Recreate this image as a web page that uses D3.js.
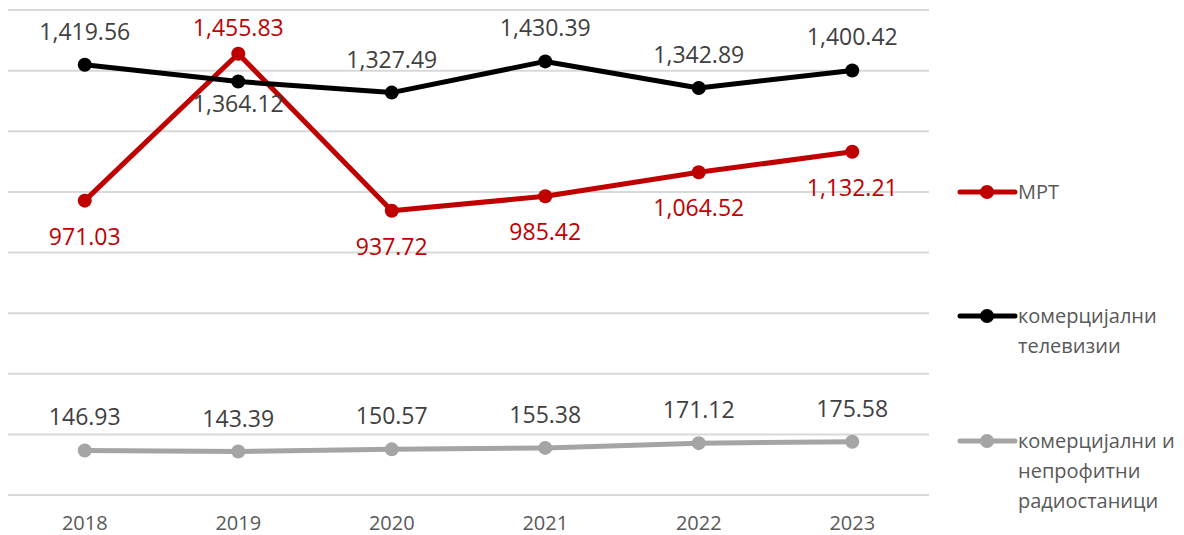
<!DOCTYPE html>
<html>
<head>
<meta charset="utf-8">
<script src="https://cdn.jsdelivr.net/npm/d3@7"></script>
<style>
  body { margin: 0; background: #fff; }
  svg text { font-family: "Open Sans", sans-serif; }
</style>
</head>
<body>
<div id="chart"></div>
<script>
var years = ["2018", "2019", "2020", "2021", "2022", "2023"];
var mrt = [971.03, 1455.83, 937.72, 985.42, 1064.52, 1132.21];
var tv = [1419.56, 1364.12, 1327.49, 1430.39, 1342.89, 1400.42];
var radio = [146.93, 143.39, 150.57, 155.38, 171.12, 175.58];
var yTicks = [0, 200, 400, 600, 800, 1000, 1200, 1400, 1600];

// label placement: true = above the point
var mrtAbove = [false, true, false, false, false, false];
var tvAbove = [true, false, true, true, true, true];
var radioAbove = [true, true, true, true, true, true];

var series = [
  { name: ["МРТ"], values: mrt, above: mrtAbove, below: 44, color: "#C00000", text: "#C00000" },
  { name: ["комерцијални", "телевизии"], values: tv, above: tvAbove, below: 30, color: "#000000", text: "#404040" },
  { name: ["комерцијални и", "непрофитни", "радиостаници"], values: radio, above: radioAbove, below: 44, color: "#A5A5A5", text: "#404040" }
];

var W = 1184, H = 535;
var margin = { top: 10, left: 8, right: 255, bottom: 40 };
var width = W - margin.left - margin.right;
var height = H - margin.top - margin.bottom;

var svg = d3.select("#chart").append("svg")
  .attr("width", W)
  .attr("height", H);

var g = svg.append("g")
  .attr("transform", "translate(" + margin.left + "," + margin.top + ")");

var x = d3.scaleBand().domain(years).range([0, width]);
var y = d3.scaleLinear().domain([0, 1600]).range([height, 0]);

// gridlines
g.selectAll("line.grid")
  .data(yTicks).enter()
  .append("line")
    .attr("class", "grid")
    .attr("x1", 0)
    .attr("x2", width)
    .attr("y1", function(d) { return y(d); })
    .attr("y2", function(d) { return y(d); })
    .attr("stroke", "#D9D9D9")
    .attr("stroke-width", 2);

// x axis labels
var xAxis = g.append("g")
  .attr("transform", "translate(0," + height + ")")
  .call(d3.axisBottom(x).tickSize(0).tickPadding(0));
xAxis.select(".domain").remove();
xAxis.selectAll("text")
  .attr("dy", null)
  .attr("y", 35)
  .attr("font-size", "20px")
  .attr("fill", "#595959")
  .style("font-family", '"Open Sans", sans-serif');

var cx = function(i) { return x(years[i]) + x.bandwidth() / 2; };

var line = d3.line()
  .x(function(d, i) { return cx(i); })
  .y(function(d) { return y(d); });

// radio first, then mrt, then tv so black sits on top
[series[2], series[0], series[1]].forEach(function(s) {
  g.append("path")
    .datum(s.values)
    .attr("fill", "none")
    .attr("stroke", s.color)
    .attr("stroke-width", 5)
    .attr("stroke-linejoin", "round")
    .attr("d", line);

  g.selectAll(null)
    .data(s.values).enter()
    .append("circle")
      .attr("cx", function(d, i) { return cx(i); })
      .attr("cy", function(d) { return y(d); })
      .attr("r", 7)
      .attr("fill", s.color);
});

// data labels (labels above are kept inside the plot top, like Excel does)
series.forEach(function(s) {
  g.selectAll(null)
    .data(s.values).enter()
    .append("text")
      .attr("x", function(d, i) { return cx(i); })
      .attr("y", function(d, i) { return s.above[i] ? Math.max(y(d) - 25, 26) : y(d) + s.below; })
      .attr("text-anchor", "middle")
      .attr("font-size", "23px")
      .attr("fill", s.text)
      .text(function(d) { return d3.format(",.2f")(d); });
});

// legend
var legendY = [192, 316, 441];
var legend = svg.selectAll("g.legend")
  .data(series).enter()
  .append("g")
    .attr("class", "legend")
    .attr("transform", function(d, i) { return "translate(960," + legendY[i] + ")"; });

legend.append("line")
  .attr("x1", 0).attr("x2", 55)
  .attr("stroke", function(d) { return d.color; })
  .attr("stroke-width", 5)
  .attr("stroke-linecap", "round");
legend.append("circle")
  .attr("cx", 27).attr("r", 7)
  .attr("fill", function(d) { return d.color; });
legend.each(function(d) {
  var t = d3.select(this).append("text")
    .attr("x", 58)
    .attr("y", 7)
    .attr("font-size", "20px")
    .attr("fill", "#595959");
  d.name.forEach(function(n, j) {
    t.append("tspan").attr("x", 58).attr("dy", j === 0 ? 0 : 30).text(n);
  });
});
</script>
</body>
</html>
